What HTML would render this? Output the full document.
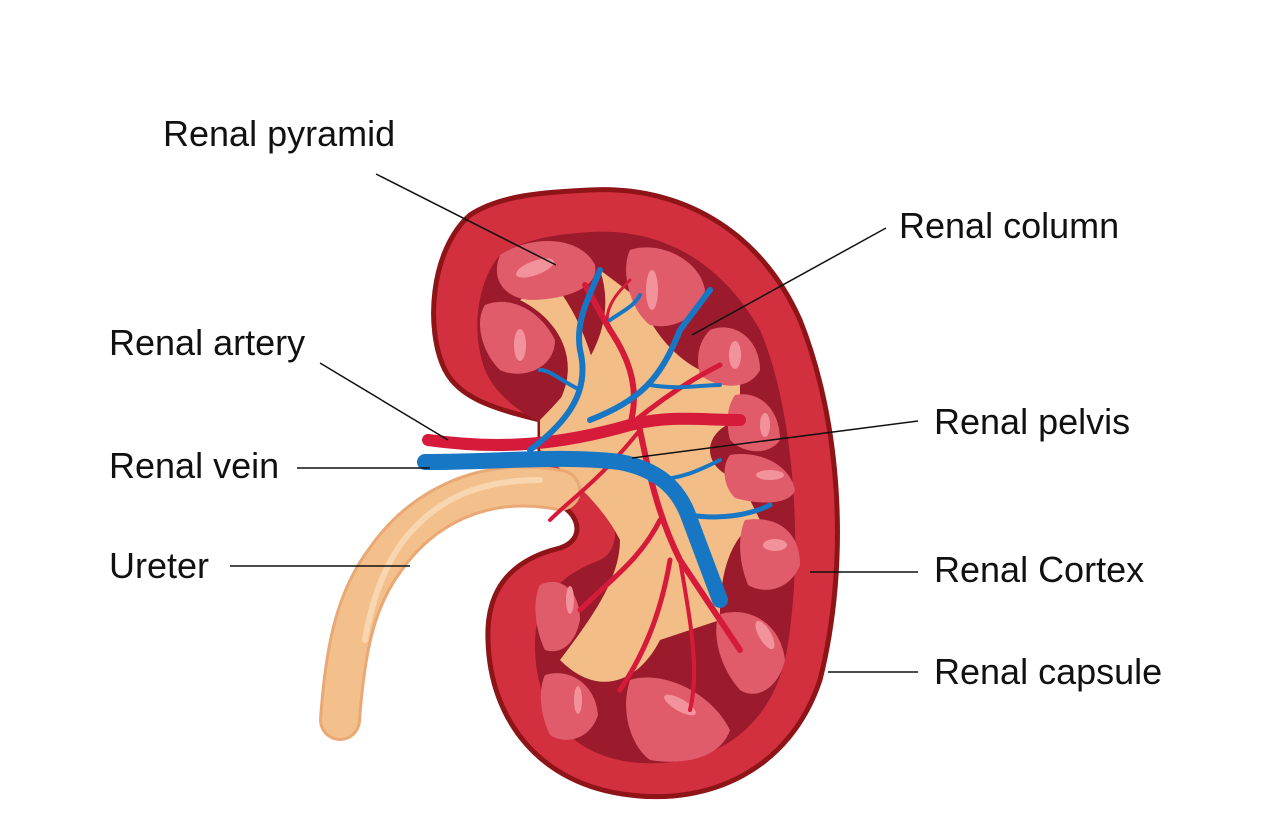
<!DOCTYPE html>
<html><head><meta charset="utf-8"><style>
html,body{margin:0;padding:0;background:#fff;}
svg{display:block;}
text{font-family:"Liberation Sans",Arial,sans-serif;font-size:36px;fill:#111;}
</style></head><body>
<svg width="1282" height="836" viewBox="0 0 1282 836" xmlns="http://www.w3.org/2000/svg">
<rect width="1282" height="836" fill="#fff"/>
<path d="M590,190 C680,185 760,230 800,320 C840,420 850,560 820,680 C790,770 710,805 630,795 C540,785 490,720 488,640 C486,590 510,560 560,548 C585,540 580,515 560,505 L540,470 L540,420 C500,410 460,400 445,370 C425,330 430,250 470,215 C500,195 545,192 590,190 Z" fill="#d3303f" stroke="#8e1418" stroke-width="5"/>
<path d="M590,232 C660,228 720,260 760,330 C795,410 805,560 785,660 C765,740 700,770 630,762 C560,752 535,700 535,645 C535,600 560,575 600,560 C620,550 620,520 600,500 L580,440 C540,425 500,405 485,370 C470,330 478,280 500,255 C525,238 560,234 590,232 Z" fill="#9b1a2c"/>
<path d="M540,420 C580,380 620,330 600,270 L640,300 C660,350 700,380 740,380 L740,420 C700,430 700,470 740,480 L760,520 C720,540 720,600 720,620 L660,640 C640,680 600,700 560,660 C590,620 620,580 620,540 C600,500 560,470 540,450 Z" fill="#f2bd87"/>
<path d="M520,300 C560,320 580,360 560,400 L600,390 C590,340 570,300 550,280 Z" fill="#f2bd87"/>
<g fill="#e05c6a">
<path d="M500,255 C530,235 580,235 595,265 C600,290 560,300 530,300 C505,298 490,280 500,255Z"/>
<path d="M630,250 C660,240 700,260 705,290 C700,320 670,330 650,325 C630,310 620,270 630,250Z"/>
<path d="M485,305 C510,295 540,310 555,340 C555,370 520,380 500,370 C480,350 475,320 485,305Z"/>
<path d="M710,330 C735,320 760,340 760,370 C750,390 720,390 700,375 C695,355 700,340 710,330Z"/>
<path d="M735,395 C760,390 780,410 780,440 C770,455 745,455 730,440 C725,420 728,405 735,395Z"/>
<path d="M730,455 C760,450 790,465 795,490 C790,505 760,505 735,498 C722,485 722,465 730,455Z"/>
<path d="M745,520 C775,515 800,530 800,565 C790,590 765,595 748,585 C738,560 738,535 745,520Z"/>
<path d="M718,615 C745,605 780,620 785,660 C778,690 755,700 740,690 C722,670 712,640 718,615Z"/>
<path d="M540,585 C560,575 580,590 580,620 C575,645 560,655 545,650 C535,630 532,600 540,585Z"/>
<path d="M545,675 C565,668 595,680 598,715 C590,740 565,745 550,735 C540,715 538,690 545,675Z"/>
<path d="M630,680 C660,670 710,690 730,730 C720,760 680,765 650,760 C630,745 620,710 630,680Z"/>
</g>
<g fill="#f2939c">
<ellipse cx="535" cy="268" rx="20" ry="7" transform="rotate(-20 535 268)"/>
<ellipse cx="652" cy="290" rx="6" ry="20"/>
<ellipse cx="520" cy="345" rx="6" ry="16"/>
<ellipse cx="735" cy="355" rx="6" ry="14"/>
<ellipse cx="765" cy="425" rx="5" ry="12"/>
<ellipse cx="770" cy="475" rx="14" ry="5"/>
<ellipse cx="775" cy="545" rx="12" ry="6"/>
<ellipse cx="765" cy="635" rx="6" ry="16" transform="rotate(-30 765 635)"/>
<ellipse cx="570" cy="600" rx="4" ry="14"/>
<ellipse cx="578" cy="700" rx="4" ry="14"/>
<ellipse cx="680" cy="705" rx="18" ry="6" transform="rotate(30 680 705)"/>
</g>
<path d="M560,490 C480,475 420,510 385,560 C355,600 345,650 340,720" fill="none" stroke="#e9a874" stroke-width="42" stroke-linecap="round"/>
<path d="M560,490 C480,475 420,510 385,560 C355,600 345,650 340,720" fill="none" stroke="#f3c08b" stroke-width="36" stroke-linecap="round"/>
<path d="M540,480 C470,480 430,505 400,545 C380,575 370,610 365,640" fill="none" stroke="#f8d7b0" stroke-width="6" stroke-linecap="round"/>
<g fill="none" stroke="#d61a3a" stroke-linecap="round">
<path d="M428,440 C500,450 560,445 630,425 C670,415 700,420 740,420" stroke-width="12"/>
<path d="M630,425 C640,390 630,360 610,330 L585,285" stroke-width="6"/>
<path d="M630,425 C660,400 690,380 720,365" stroke-width="5"/>
<path d="M640,430 C650,480 660,520 680,560 L740,650" stroke-width="6"/>
<path d="M660,520 C640,560 610,580 580,610" stroke-width="5"/>
<path d="M670,560 C660,620 640,660 620,690" stroke-width="5"/>
<path d="M680,560 C690,620 700,670 690,710" stroke-width="4"/>
<path d="M610,330 C600,310 620,290 630,280" stroke-width="3"/>
<path d="M640,430 C600,480 570,500 550,520" stroke-width="4"/>
</g>
<g fill="none" stroke="#1777c4" stroke-linecap="round">
<path d="M425,462 C500,462 560,455 620,462 C660,470 680,490 690,520 L720,600" stroke-width="16"/>
<path d="M530,450 C570,420 590,390 580,350 C575,320 590,295 600,270" stroke-width="6"/>
<path d="M580,390 C560,380 550,370 540,370" stroke-width="4"/>
<path d="M590,420 C640,400 660,380 680,330 L710,290" stroke-width="6"/>
<path d="M650,385 C680,390 700,385 720,385" stroke-width="4"/>
<path d="M610,320 C625,310 635,305 640,295" stroke-width="4"/>
<path d="M690,515 C720,520 750,515 770,505" stroke-width="5"/>
<path d="M650,480 C680,480 700,470 720,460" stroke-width="4"/>
</g>
<g stroke="#111" stroke-width="1.5">
<line x1="376" y1="174" x2="556" y2="265"/>
<line x1="886" y1="228" x2="692" y2="335"/>
<line x1="320" y1="363" x2="448" y2="440"/>
<line x1="918" y1="421" x2="632" y2="458"/>
<line x1="297" y1="468" x2="430" y2="468"/>
<line x1="230" y1="566" x2="410" y2="566"/>
<line x1="918" y1="572" x2="810" y2="572"/>
<line x1="918" y1="672" x2="828" y2="672"/>
</g>
<text x="163" y="146">Renal pyramid</text>
<text x="899" y="238">Renal column</text>
<text x="109" y="355">Renal artery</text>
<text x="934" y="434">Renal pelvis</text>
<text x="109" y="478">Renal vein</text>
<text x="109" y="578">Ureter</text>
<text x="934" y="582">Renal Cortex</text>
<text x="934" y="684">Renal capsule</text>
</svg>
</body></html>
